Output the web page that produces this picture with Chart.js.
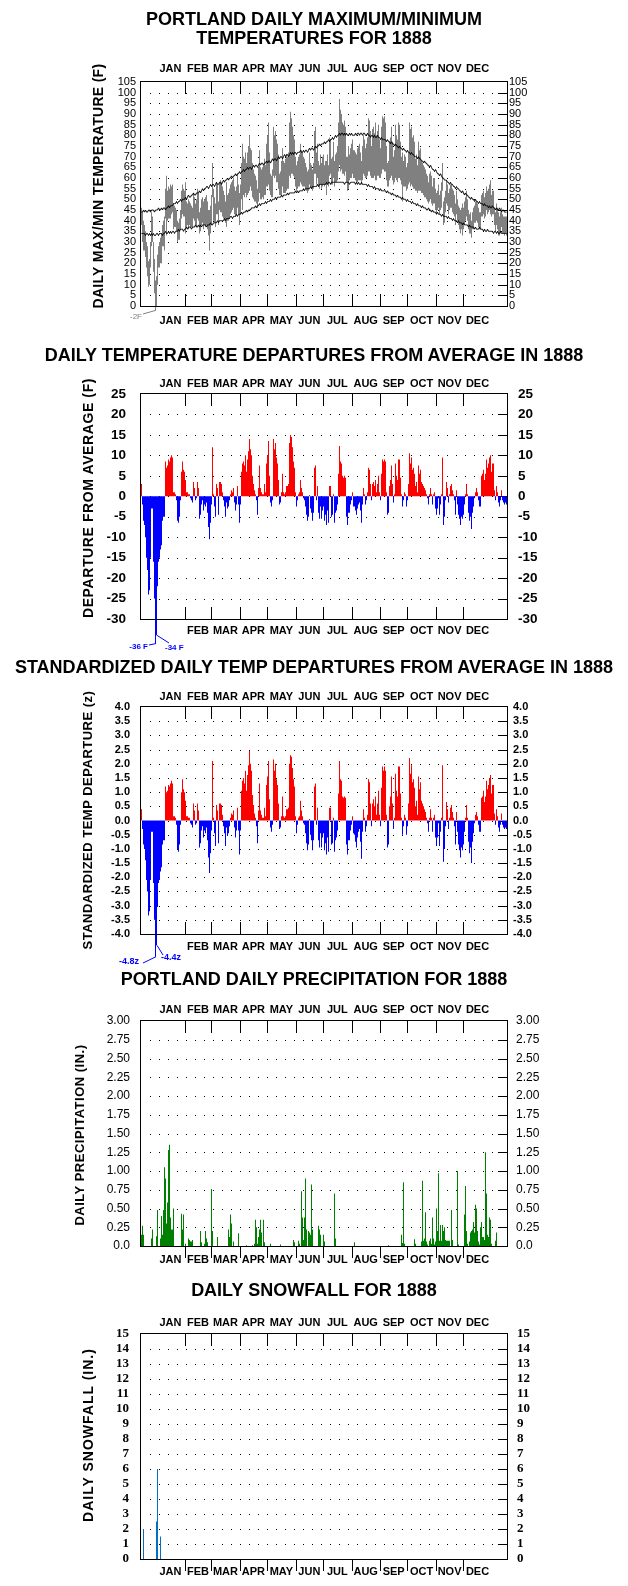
<!DOCTYPE html>
<html><head><meta charset="utf-8">
<script src="https://cdn.jsdelivr.net/npm/chart.js@4.4.1/dist/chart.umd.min.js"></script>
<style>
html,body{margin:0;padding:0;background:#fff;}
body{width:628px;height:1586px;position:relative;overflow:hidden;font-family:"Liberation Sans",Arial,sans-serif;}
canvas{position:absolute;left:0;}
.title{position:absolute;left:0;width:628px;text-align:center;font-weight:bold;font-size:18px;line-height:20px;color:#000;white-space:nowrap;}
.ytitle{position:absolute;width:300px;text-align:center;font-weight:bold;font-size:13px;line-height:16px;color:#000;white-space:nowrap;transform:rotate(-90deg);}
#warn{position:absolute;left:0;top:0;color:#f0f;font-size:20px;}
</style></head><body>
<canvas id="c1"></canvas><canvas id="c2"></canvas><canvas id="c3"></canvas><canvas id="c4"></canvas><canvas id="c5"></canvas>
<div class="title" style="top:8.5px">PORTLAND DAILY MAXIMUM/MINIMUM</div>
<div class="title" style="top:28px">TEMPERATURES FOR 1888</div>
<div class="title" style="top:345px">DAILY TEMPERATURE DEPARTURES FROM AVERAGE IN 1888</div>
<div class="title" style="top:657px">STANDARDIZED DAILY TEMP DEPARTURES FROM AVERAGE IN 1888</div>
<div class="title" style="top:969px">PORTLAND DAILY PRECIPITATION FOR 1888</div>
<div class="title" style="top:1280px">DAILY SNOWFALL FOR 1888</div>
<div class="ytitle" style="left:-52px;top:178px;font-size:14px;letter-spacing:0.3px">DAILY MAX/MIN TEMPERATURE (F)</div>
<div class="ytitle" style="left:-62px;top:490px;font-size:14px;letter-spacing:0.6px">DEPARTURE FROM AVERAGE (F)</div>
<div class="ytitle" style="left:-62px;top:812px;font-size:13px;letter-spacing:0.5px">STANDARDIZED TEMP DEPARTURE (z)</div>
<div class="ytitle" style="left:-70px;top:1127px;font-size:13px;letter-spacing:0.5px">DAILY PRECIPITATION (IN.)</div>
<div class="ytitle" style="left:-62px;top:1427px;font-size:14px;letter-spacing:1px">DAILY SNOWFALL (IN.)</div>
<div id="warn"></div>
<script>
// ---------- categories ----------
const MONTHS = ['JAN','FEB','MAR','APR','MAY','JUN','JUL','AUG','SEP','OCT','NOV','DEC'];
const MONTH_DAYS = [31,29,31,30,31,30,31,31,30,31,30,31];

// ---------- daily maximum temperature (F) ----------
const dailyMax = [
/*JAN*/46,44,40,38,35,30,28,21,22,30,44,42,30,22,12,14,24,28,30,32,34,38,40,42,55,61,54,56,55,57,56,
/*FEB*/57,48,47,46,45,40,39,41,45,54,57,55,54,58,49,48,50,49,48,47,46,53,51,48,50,55,53,44,46,
/*MAR*/50,51,49,50,51,52,49,45,45,47,52,67,55,51,48,58,57,49,58,59,58,56,54,52,49,58,52,53,55,57,58,
/*APR*/59,60,56,54,56,62,57,53,57,67,76,70,69,72,67,72,75,80,74,73,67,64,62,61,59,55,65,73,65,64,
/*MAY*/65,66,69,66,76,80,86,72,62,61,64,84,80,82,78,76,71,62,63,68,74,68,67,69,71,70,72,86,91,88,84,
/*JUN*/80,78,70,66,68,70,71,76,73,72,70,69,67,65,63,64,72,67,66,64,67,82,84,72,76,68,66,71,67,70,
/*JUL*/71,66,68,68,71,66,79,78,69,70,77,68,71,72,75,86,97,92,90,86,85,87,84,70,70,75,71,74,76,78,73,
/*AUG*/73,72,71,74,75,76,72,68,75,80,78,74,76,79,88,87,82,75,83,84,81,86,80,82,85,78,74,84,89,88,89,
/*SEP*/86,75,67,68,77,79,84,77,70,73,85,80,78,86,85,77,70,72,68,71,70,65,67,72,86,83,84,79,80,77,
/*OCT*/69,71,66,77,73,74,68,67,66,65,64,62,61,58,62,63,61,56,60,60,55,53,54,57,52,54,58,67,49,51,54,
/*NOV*/59,57,53,55,57,57,55,54,52,48,54,50,47,46,45,46,48,46,49,51,54,50,45,43,44,40,44,46,47,49,
/*DEC*/49,48,46,44,44,52,53,54,51,53,56,54,55,57,59,52,54,54,46,44,48,46,44,42,44,46,43,42,42,42,42
];
// ---------- daily minimum temperature (F) ----------
const dailyMin = [
/*JAN*/38,30,26,26,23,18,14,9,10,18,28,30,16,6,-2,0,10,18,18,20,20,28,28,26,41,33,40,41,41,41,43,
/*FEB*/44,36,37,37,35,30,31,31,36,41,43,42,42,34,37,38,36,38,37,37,37,41,40,38,37,41,40,34,35,
/*MAR*/38,39,36,38,37,38,36,33,26,34,38,51,40,39,37,43,43,38,45,44,44,42,41,40,39,37,40,40,41,43,44,
/*APR*/45,46,43,42,43,46,43,38,43,50,45,52,51,53,51,52,53,54,56,54,51,50,49,49,48,46,49,53,50,50,
/*MAY*/51,50,52,52,56,56,57,54,52,51,51,61,60,61,58,58,55,52,52,52,56,53,53,53,54,55,55,61,60,62,62,
/*JUN*/61,60,56,54,55,56,56,58,57,56,56,56,55,54,53,54,57,56,55,54,55,62,62,57,60,56,55,57,55,56,
/*JUL*/57,56,57,52,57,56,61,62,57,57,60,56,58,58,59,63,66,63,64,62,62,61,63,58,54,55,59,60,60,62,60,
/*AUG*/60,59,58,58,59,59,59,57,59,62,61,60,60,61,63,63,61,60,60,60,61,59,59,61,61,60,60,62,64,64,63,
/*SEP*/63,59,56,56,59,60,61,59,57,58,60,59,58,60,60,59,57,49,56,56,56,54,55,57,58,56,57,56,55,55,
/*OCT*/54,54,53,54,54,54,53,53,52,51,51,50,49,48,49,50,48,47,48,48,45,43,45,46,43,45,46,54,38,39,44,
/*NOV*/48,47,43,45,46,46,44,43,42,38,43,40,38,36,34,36,33,36,38,40,42,40,36,34,34,32,36,36,39,39,
/*DEC*/40,39,37,36,36,42,42,43,41,42,45,43,44,45,43,42,43,43,38,35,38,36,33,33,34,37,34,34,33,34,33
];
// ---------- normal high / low (F) ----------
const normalHigh = [
/*JAN*/44,44,45,44,45,44,44,45,45,44,45,45,45,44,45,45,45,46,45,45,46,45,46,46,45,46,46,47,46,47,47,
/*FEB*/47,48,48,48,49,48,49,49,50,49,50,50,50,51,50,51,52,51,51,52,52,53,52,52,53,53,53,54,53,
/*MAR*/54,55,54,55,55,56,56,55,56,57,56,57,57,56,57,58,57,57,58,58,57,58,59,58,59,59,60,59,60,60,61,
/*APR*/60,61,61,62,61,62,62,63,62,63,63,64,63,64,64,65,64,65,65,64,65,66,65,66,66,65,66,67,66,67,
/*MAY*/67,66,67,67,68,67,68,68,67,68,69,68,69,69,68,69,70,69,70,70,69,70,71,70,71,71,70,71,72,71,72,
/*JUN*/71,72,72,71,72,72,72,73,72,72,73,72,73,73,72,73,74,73,74,74,73,74,75,74,75,75,76,75,76,76,
/*JUL*/76,77,76,77,77,78,77,78,78,79,78,79,80,79,80,80,81,80,81,81,80,81,80,81,80,80,81,80,81,80,80,
/*AUG*/80,81,80,81,81,80,81,81,80,81,81,80,80,81,80,80,79,80,80,79,80,79,79,80,79,79,78,79,78,78,78,
/*SEP*/78,77,78,77,77,76,77,76,76,75,76,75,75,74,75,74,74,73,74,73,73,72,73,72,72,71,72,71,71,70,
/*OCT*/70,70,69,70,69,69,68,68,67,68,67,67,66,66,65,66,65,64,64,63,64,63,62,62,61,62,61,60,60,59,59,
/*NOV*/59,58,58,57,58,57,57,56,56,55,56,55,55,54,54,53,54,53,52,53,52,52,51,51,50,51,50,50,49,50,
/*DEC*/49,49,48,49,48,48,48,47,48,47,47,47,46,47,46,46,47,46,46,45,46,45,45,46,45,44,45,45,44,44,44
];
const normalLow = [
/*JAN*/34,34,34,34,33,34,34,33,34,33,34,33,34,33,33,34,34,33,34,34,34,33,34,34,35,34,34,35,34,35,34,
/*FEB*/35,35,34,35,35,35,36,35,36,36,36,35,36,36,37,36,37,37,37,36,37,37,37,38,37,37,38,37,38,
/*MAR*/37,38,38,38,38,37,38,38,38,39,38,38,39,39,39,39,40,39,40,40,40,40,40,41,40,41,41,41,41,42,42,
/*APR*/41,42,42,42,43,42,43,43,43,44,43,44,44,44,45,44,45,45,45,46,46,46,46,47,46,47,47,48,47,48,
/*MAY*/48,48,48,49,48,49,49,49,50,49,50,50,50,51,50,51,51,51,51,52,51,52,52,52,52,53,52,53,53,53,53,
/*JUN*/53,53,54,53,54,53,54,54,54,54,55,54,55,55,55,55,55,56,55,56,56,56,56,56,57,56,57,57,57,57,
/*JUL*/57,57,57,58,57,58,58,57,58,58,58,58,58,58,58,58,58,58,58,58,58,57,58,58,58,58,57,58,58,58,58,
/*AUG*/58,57,58,57,58,57,57,58,57,57,57,57,57,56,57,56,56,56,56,55,56,55,55,55,55,54,55,54,54,54,54,
/*SEP*/54,53,54,53,53,53,52,53,52,52,52,51,52,51,51,51,50,51,50,50,50,49,50,49,49,49,48,49,48,48,
/*OCT*/48,47,48,47,47,47,46,47,46,46,46,45,45,46,45,45,44,45,44,44,44,43,44,43,43,43,42,43,42,42,42,
/*NOV*/42,41,42,41,41,41,40,41,40,40,40,39,40,39,39,39,38,39,38,38,38,38,37,38,37,37,37,37,36,37,
/*DEC*/36,36,36,37,36,36,36,35,36,35,35,36,35,35,35,35,35,34,35,35,34,35,34,34,35,34,34,34,34,34,34
];
// ---------- daily departure from average (F) ----------
const departure = [
/*JAN*/3,-2,-6,-7,-10,-15,-18,-24,-23,-15,-3,-3,-16,-25,-36,-34,-22,-16,-15,-13,-12,-6,-5,-5,8.5,7,7.5,9,8.5,9.5,10,
/*FEB*/9.5,1,1,0.5,-1,-6,-6.5,-5,-1,6,8.5,6.5,6,4,1,1,0.5,0.5,-0.5,-1,-1.5,3.5,2,-1,-0.5,3.5,2,-5.5,-4.5,
/*MAR*/-2,-1,-3.5,-2,-2.5,-1.5,-4,-7.5,-10.5,-6.5,-2,12,0.5,-2.5,-5,3,2,-4.5,3.5,3.5,3,1,-1,-2.5,-5,-1.5,-3,-2.5,-1,0.5,1.5,
/*APR*/1,2,-1.5,-3.5,-2,2.5,-2,-6.5,-2,6,8,8.5,7.5,10,6,9,11,14,11.5,10,5,3,1.5,0.5,-1,-4.5,2,7.5,2,1,
/*MAY*/0.5,0.5,3,1,8,10,13.5,5,-1.5,-2.5,-1,14,11.5,13,9.5,8,4,-2,-1.5,1,5.5,1,0.5,1,2.5,2.5,3,13,15,14.5,12,
/*JUN*/8.5,7,1,-2.5,-1,0.5,1,4,2,1,-0.5,-1,-2.5,-4.5,-6,-5,0.3,-3,-4,-6,-4,7,7.5,-1,2.5,-4,-5.5,-2.5,-5.5,-3.5,
/*JUL*/-2.5,-6,-4.5,-7,-3.5,-6.5,2.5,2.5,-5,-4.5,0.5,-6.5,-4,-3.5,-2,5.5,12.3,8.5,8,5,4.5,5,4.5,-5,-7,-4,-4,-2,-1,1,-2.5,
/*AUG*/-2.5,-3.5,-4.5,-3,-2,-1.5,-3.5,-6.5,-2,2,0.5,-2,-1,1,7,6.5,3,-1,3,3.5,2.5,4,1,3,5,1,-1,5.5,9,8.5,9,
/*SEP*/8.5,1,-4.5,-4,2.5,4,7.5,3,-1.5,0.5,8,5,4,9,9,4.5,0.5,-2.5,-1,1,0.5,-2.5,-1,3,10.5,8,9.5,6.5,7,5.5,
/*OCT*/2.5,3.5,1,7.5,5.5,6.5,3.5,3,2.5,2,1.5,0.5,-0.5,-2,0.5,2,0.5,-2,0.5,1,-3,-4.5,-3,-0.5,-4.5,-2,0.5,9.5,-7,-5,-1,
/*NOV*/3.5,2,-1.5,0.5,2.5,3,1.5,0.5,-1,-4.5,1.5,-2,-4.5,-5.5,-7,-5,-5.5,-4.5,-2,0.5,3,0.5,-4,-6,-5,-8,-4,-2.5,-0.5,1,
/*DEC*/2,1,-1,-2.5,-2.5,5,5.5,6.5,4,5.5,9,7,8,9.5,10,6,8,8,1.5,-1,2.5,1,-1.5,-2.5,-1,1.5,-1,-1.5,-2,-1.5,-2
];
// ---------- standardized daily departure (z) ----------
const zDeparture = [
/*JAN*/0.4,-0.3,-0.85,-1.0,-1.4,-2.1,-2.5,-3.35,-3.2,-2.1,-0.4,-0.4,-2.2,-3.5,-4.8,-4.4,-3.05,-2.2,-2.1,-1.8,-1.65,-0.85,-0.7,-0.7,1.2,1.0,1.05,1.25,1.2,1.3,1.4,
/*FEB*/1.3,0.15,0.15,0.1,-0.15,-1.0,-1.1,-0.85,-0.15,1.0,1.45,1.1,1.0,0.7,0.15,0.15,0.1,0.1,-0.1,-0.15,-0.25,0.6,0.35,-0.15,-0.1,0.6,0.35,-0.95,-0.8,
/*MAR*/-0.35,-0.2,-0.6,-0.35,-0.45,-0.25,-0.7,-1.3,-1.85,-1.15,-0.35,2.1,0.1,-0.45,-0.9,0.55,0.35,-0.8,0.6,0.6,0.55,0.2,-0.2,-0.45,-0.9,-0.25,-0.55,-0.45,-0.2,0.1,0.25,
/*APR*/0.2,0.35,-0.25,-0.6,-0.35,0.45,-0.35,-1.2,-0.35,1.05,1.4,1.5,1.3,1.75,1.05,1.6,1.95,2.45,2.0,1.75,0.9,0.55,0.25,0.1,-0.2,-0.8,0.35,1.3,0.35,0.2,
/*MAY*/0.1,0.1,0.45,0.15,1.25,1.55,2.1,0.75,-0.25,-0.4,-0.15,2.15,1.75,2.0,1.45,1.25,0.6,-0.3,-0.25,0.15,0.85,0.15,0.1,0.15,0.4,0.4,0.45,2.0,2.3,2.25,1.85,
/*JUN*/1.45,1.2,0.15,-0.45,-0.15,0.1,0.15,0.7,0.35,0.15,-0.1,-0.15,-0.45,-0.8,-1.05,-0.85,0.05,-0.5,-0.7,-1.05,-0.7,1.2,1.3,-0.15,0.45,-0.7,-0.95,-0.45,-0.95,-0.6,
/*JUL*/-0.45,-1.05,-0.8,-1.2,-0.6,-1.1,0.45,0.45,-0.85,-0.8,0.1,-1.1,-0.7,-0.6,-0.35,0.95,2.1,1.45,1.4,0.85,0.8,0.85,0.8,-0.85,-1.2,-0.7,-0.7,-0.35,-0.15,0.15,-0.45,
/*AUG*/-0.5,-0.75,-0.95,-0.6,-0.4,-0.3,-0.75,-1.35,-0.4,0.4,0.1,-0.4,-0.2,0.2,1.45,1.35,0.6,-0.2,0.6,0.75,0.5,0.85,0.2,0.6,1.05,0.2,-0.2,1.15,1.9,1.75,1.9,
/*SEP*/1.75,0.2,-0.95,-0.85,0.5,0.85,1.55,0.6,-0.3,0.1,1.65,1.05,0.85,1.9,1.9,0.95,0.1,-0.5,-0.2,0.2,0.1,-0.5,-0.2,0.6,2.2,1.65,1.95,1.35,1.45,1.15,
/*OCT*/0.5,0.7,0.2,1.55,1.1,1.35,0.7,0.6,0.5,0.4,0.3,0.1,-0.1,-0.4,0.1,0.4,0.1,-0.4,0.1,0.2,-0.6,-0.9,-0.6,-0.1,-0.9,-0.4,0.1,1.95,-1.45,-1.0,-0.2,
/*NOV*/0.65,0.4,-0.3,0.1,0.45,0.55,0.3,0.1,-0.2,-0.85,0.3,-0.4,-0.85,-1.05,-1.3,-0.95,-1.05,-0.85,-0.4,0.1,0.55,0.1,-0.75,-1.15,-0.95,-1.5,-0.75,-0.45,-0.1,0.2,
/*DEC*/0.3,0.15,-0.15,-0.4,-0.4,0.8,0.85,1.05,0.65,0.85,1.4,1.1,1.25,1.5,1.6,0.95,1.25,1.25,0.25,-0.15,0.4,0.15,-0.25,-0.4,-0.15,0.25,-0.15,-0.25,-0.3,-0.25,-0.3
];
// ---------- daily precipitation (in.) ----------
const precipitation = [
/*JAN*/.15,.27,.15,0,0,0,0,0,0,0,.1,.22,0,0,0,.13,.48,0,0,.1,.4,.15,.48,1.05,.9,.3,.58,1.28,1.35,.38,.22,
/*FEB*/.22,.5,0,0,0,0,0,0,0,.43,.22,.42,0,.03,0,0,.1,.08,.06,.06,.08,0,0,0,0,0,0,0,.2,
/*MAR*/.05,0,0,.03,.2,.1,.05,0,0,0,.76,.2,0,0,0,0,.12,0,0,0,0,0,0,0,0,0,0,.22,.12,.42,.3,
/*APR*/0,.06,0,0,0,0,.17,0,0,0,0,0,0,0,.01,0,0,0,0,0,.01,0,.03,.35,.25,.03,.12,.22,.35,.18,
/*MAY*/0,.35,.05,0,0,0,0,0,.03,0,0,0,0,0,0,0,0,0,.02,0,0,0,0,0,0,0,0,0,0,0,0,
/*JUN*/.08,.05,0,0,0,.07,.03,0,.73,.38,.08,.38,.9,.22,0,.2,.18,.15,.82,.22,0,0,0,0,0,.27,.22,.15,0,0,
/*JUL*/.15,.06,0,0,0,0,0,0,0,0,0,.7,.1,0,0,0,0,0,0,0,0,0,0,0,0,0,0,0,0,0,0,
/*AUG*/.05,0,0,0,0,0,0,0,0,0,0,0,0,0,0,0,0,0,0,0,0,0,0,0,0,0,0,0,0,0,0,
/*SEP*/0,0,0,.01,0,0,0,0,0,0,0,0,0,0,0,0,.15,.04,.85,.03,0,0,0,0,0,0,0,0,0,.09,
/*OCT*/.03,0,0,0,0,0,.06,.87,.07,.1,.45,.06,.02,0,.07,.1,.03,.38,.1,.02,.06,.5,.2,.97,.07,.28,.07,.28,.2,.25,.08,
/*NOV*/.07,.07,.07,.07,0,.48,.08,0,0,0,0,1.0,.02,0,0,0,0,0,.42,.8,.2,.03,0,.06,.18,.2,.22,.32,.18,.55,
/*DEC*/.5,.2,.06,.02,.25,.32,.12,.12,.08,1.25,.7,.15,.12,.38,.35,.03,0,0,0,.07,.18,0,0,0,0,0,0,0,0,0,0
];
// ---------- daily snowfall (in.) ----------
const snowfall = [
/*JAN*/0,0,2,0,0,0,0,0,0,0,0,0,0,0,0,2.5,6,0,0,1.5,0,0,0,0,0,0,0,0,0,0,0,
/*FEB*/0,0,0,0,0,0,0,0,0,0,0,0,0,0,0,0,0,0,0,0,0,0,0,0,0,0,0,0,0,
/*MAR*/0,0,0,0,0,0,0,0,0,0,0,0,0,0,0,0,0,0,0,0,0,0,0,0,0,0,0,0,0,0,0,
/*APR*/0,0,0,0,0,0,0,0,0,0,0,0,0,0,0,0,0,0,0,0,0,0,0,0,0,0,0,0,0,0,
/*MAY*/0,0,0,0,0,0,0,0,0,0,0,0,0,0,0,0,0,0,0,0,0,0,0,0,0,0,0,0,0,0,0,
/*JUN*/0,0,0,0,0,0,0,0,0,0,0,0,0,0,0,0,0,0,0,0,0,0,0,0,0,0,0,0,0,0,
/*JUL*/0,0,0,0,0,0,0,0,0,0,0,0,0,0,0,0,0,0,0,0,0,0,0,0,0,0,0,0,0,0,0,
/*AUG*/0,0,0,0,0,0,0,0,0,0,0,0,0,0,0,0,0,0,0,0,0,0,0,0,0,0,0,0,0,0,0,
/*SEP*/0,0,0,0,0,0,0,0,0,0,0,0,0,0,0,0,0,0,0,0,0,0,0,0,0,0,0,0,0,0,
/*OCT*/0,0,0,0,0,0,0,0,0,0,0,0,0,0,0,0,0,0,0,0,0,0,0,0,0,0,0,0,0,0,0,
/*NOV*/0,0,0,0,0,0,0,0,0,0,0,0,0,0,0,0,0,0,0,0,0,0,0,0,0,0,0,0,0,0,
/*DEC*/0,0,0,0,0,0,0,0,0,0,0,0,0,0,0,0,0,0,0,0,0,0,0,0,0,0,0,0,0,0,0
];

// ---------- derived categories ----------
const MONTH_START = []; let acc = 0;
MONTH_DAYS.forEach(n => { MONTH_START.push(acc); acc += n; });
const YEAR_DAYS = acc;
const MONTH_MID = MONTH_START.map((s, i) => s + MONTH_DAYS[i] / 2);
const DAY_LABELS = [];
MONTH_DAYS.forEach((n, m) => { for (let d = 1; d <= n; d++) DAY_LABELS.push(MONTHS[m] + ' ' + d); });

const lens = {dailyMax, dailyMin, normalHigh, normalLow, departure, zDeparture, precipitation, snowfall};
const bad = Object.entries(lens).filter(([k, v]) => v.length !== YEAR_DAYS).map(([k, v]) => k + ':' + v.length);
if (bad.length) document.getElementById('warn').textContent = 'LEN ' + bad.join(' ');

Chart.defaults.font.family = '"Liberation Sans", Arial, sans-serif';
Chart.defaults.color = '#000';

// ---------- decoration plugin (dotted grid, frame, month ticks, notes) ----------
const decorPlugin = {
  id: 'decor',
  beforeDatasetsDraw(chart, args, o) {
    const ctx = chart.ctx, a = chart.chartArea, ys = chart.scales.y;
    ctx.save(); ctx.fillStyle = '#000';
    o.grid.forEach(v => {
      const py = Math.round(ys.getPixelForValue(v));
      for (let x = a.left + 9; x <= a.right - 12; x += 9) ctx.fillRect(x, py, 1, 1);
      ctx.fillRect(a.right - 9, py, 9, 1);
    });
    ctx.restore();
  },
  afterDatasetsDraw(chart, args, o) {
    const ctx = chart.ctx, a = chart.chartArea, xs = chart.scales.xTop, ys = chart.scales.y;
    ctx.save();
    ctx.strokeStyle = '#000'; ctx.lineWidth = 1;
    ctx.strokeRect(a.left - 0.5, a.top - 0.5, a.right - a.left + 1, a.bottom - a.top + 1);
    ctx.beginPath();
    MONTH_START.slice(1).forEach(d => {
      const px = Math.round(xs.getPixelForValue(d)) + 0.5;
      ctx.moveTo(px, a.top); ctx.lineTo(px, a.top + 12);
      if (o.bottomOut) { ctx.moveTo(px, a.bottom); ctx.lineTo(px, a.bottom + 12); }
      else { ctx.moveTo(px, a.bottom); ctx.lineTo(px, a.bottom - 12); }
    });
    ctx.stroke();
    (o.notes || []).forEach(n => {
      const x0 = chart.scales.x.getPixelForValue(n.day) + 0.5;
      const y0 = ys.getPixelForValue(n.value);
      ctx.strokeStyle = n.color; ctx.fillStyle = n.color;
      ctx.beginPath(); ctx.moveTo(x0, y0); ctx.lineTo(x0 + n.lx, a.bottom + n.ly); ctx.stroke();
      ctx.font = n.font; ctx.textAlign = n.align; ctx.textBaseline = 'middle';
      ctx.fillText(n.text, x0 + n.tx, a.bottom + n.ty);
    });
    ctx.restore();
  }
};

function monthAxis(pos, pad, showJan, h) {
  return {
    type: 'linear', position: pos, min: 0, max: YEAR_DAYS,
    afterBuildTicks: s => { s.ticks = MONTH_MID.map(v => ({value: v})); },
    afterFit: s => { s.height = h; },
    grid: {display: false, drawTicks: false}, border: {display: false},
    ticks: {autoSkip: false, maxRotation: 0, minRotation: 0, padding: pad, color: '#000',
      font: {size: 11, weight: 'bold', lineHeight: 1},
      callback: (v, i) => (i === 0 && !showJan) ? '' : MONTHS[i]}
  };
}
function valueAxis(pos, p, w) {
  return {
    type: 'linear', position: pos, min: p.min, max: p.max,
    afterFit: s => { s.width = w; },
    grid: {display: false, drawTicks: false}, border: {display: false},
    ticks: {stepSize: p.step, autoSkip: false, padding: pos === 'left' ? p.padL : p.padR,
      color: '#000', font: p.tickFont, callback: p.fmt}
  };
}
function buildChart(p) {
  const canvas = document.getElementById(p.id);
  canvas.style.top = p.canvasTop + 'px';
  canvas.width = 628; canvas.height = p.canvasH;
  canvas.style.width = '628px'; canvas.style.height = p.canvasH + 'px';
  const cTop = p.area.top - p.canvasTop;
  const cBot = p.canvasTop + p.canvasH - p.area.bottom;
  const topH = 30, botH = Math.min(28, cBot);
  return new Chart(canvas, {
    type: 'bar',
    data: {labels: DAY_LABELS, datasets: p.datasets},
    options: {
      responsive: false, animation: false, devicePixelRatio: 1,
      layout: {padding: {left: 0, right: 0, top: cTop - topH, bottom: cBot - botH}},
      plugins: {legend: {display: false}, tooltip: {enabled: false}, decor: p.decor},
      scales: {
        x: {type: 'category', display: false, offset: true},
        xTop: monthAxis('top', p.topPad, true, topH),
        xBot: monthAxis('bottom', p.botPad, p.janBottom, botH),
        y: valueAxis('left', p, 141),
        y2: valueAxis('right', p, 121)
      }
    },
    plugins: [decorPlugin]
  });
}
function range(a, b, s) { const r = []; for (let v = a; v <= b + 1e-9; v += s) r.push(Math.round(v * 1000) / 1000); return r; }
const barBase = {xAxisID: 'x', yAxisID: 'y', barPercentage: 1, categoryPercentage: 1, inflateAmount: 0, borderWidth: 0, order: 2};
const lineBase = {type: 'line', xAxisID: 'x', yAxisID: 'y', borderColor: '#000', borderWidth: 1, pointRadius: 0, tension: 0, order: 0, fill: false};

// Panel 1: max/min temperature
buildChart({
  id: 'c1', canvasTop: 0, canvasH: 340, area: {top: 82, bottom: 306},
  min: 0, max: 105, step: 5, padL: 5, padR: 2, tickFont: {size: 11}, fmt: v => String(v),
  topPad: 8, botPad: 9, janBottom: true,
  decor: {grid: range(5, 100, 5), bottomOut: false,
    notes: [{day: 14, value: -2, lx: -13, ly: 8, tx: -14, ty: 11, text: '-2F', align: 'right', color: '#808080', font: '8px "Liberation Sans"'}]},
  datasets: [
    Object.assign({}, lineBase, {data: normalHigh}),
    Object.assign({}, lineBase, {data: normalLow}),
    Object.assign({}, barBase, {data: dailyMin.map((lo, i) => [lo, dailyMax[i]]), backgroundColor: '#808080',
      clip: {left: 0, top: 0, right: 0, bottom: 6}})
  ]
});
// Panel 2: departures
buildChart({
  id: 'c2', canvasTop: 335, canvasH: 325, area: {top: 394, bottom: 619},
  min: -30, max: 25, step: 5, padL: 15, padR: 11, tickFont: {size: 13.5, weight: 'bold'}, fmt: v => String(v),
  topPad: 5, botPad: 6, janBottom: false,
  decor: {grid: range(-25, 20, 5), bottomOut: false,
    notes: [
      {day: 14, value: -36, lx: -7, ly: 26, tx: -8, ty: 28, text: '-36 F', align: 'right', color: '#0000ff', font: 'bold 8px "Liberation Sans"'},
      {day: 15, value: -34, lx: 12, ly: 24, tx: 8, ty: 29, text: '-34 F', align: 'left', color: '#0000ff', font: 'bold 8px "Liberation Sans"'}]},
  datasets: [Object.assign({}, barBase, {data: departure,
    backgroundColor: departure.map(v => v >= 0 ? '#ff0000' : '#0000ff'),
    clip: {left: 0, top: 0, right: 0, bottom: 30}})]
});
// Panel 3: standardized departures
buildChart({
  id: 'c3', canvasTop: 655, canvasH: 320, area: {top: 707, bottom: 934},
  min: -4, max: 4, step: 0.5, padL: 11, padR: 6, tickFont: {size: 11, weight: 'bold'}, fmt: v => v.toFixed(1),
  topPad: 5, botPad: 7, janBottom: false,
  decor: {grid: range(-3.5, 3.5, 0.5), bottomOut: false,
    notes: [
      {day: 14, value: -4.8, lx: -13, ly: 29, tx: -17, ty: 28, text: '-4.8z', align: 'right', color: '#0000ff', font: 'bold 9px "Liberation Sans"'},
      {day: 15, value: -4.4, lx: 6, ly: 21, tx: 4, ty: 24, text: '-4.4z', align: 'left', color: '#0000ff', font: 'bold 9px "Liberation Sans"'}]},
  datasets: [Object.assign({}, barBase, {data: zDeparture,
    backgroundColor: zDeparture.map(v => v >= 0 ? '#ff0000' : '#0000ff'),
    clip: {left: 0, top: 0, right: 0, bottom: 30}})]
});
// Panel 4: precipitation
buildChart({
  id: 'c4', canvasTop: 970, canvasH: 315, area: {top: 1021, bottom: 1246},
  min: 0, max: 3, step: 0.25, padL: 11, padR: 9, tickFont: {size: 12}, fmt: v => v === 0 ? '0.0' : v.toFixed(2),
  topPad: 6, botPad: 8, janBottom: true,
  decor: {grid: range(0.25, 2.75, 0.25), bottomOut: true, notes: []},
  datasets: [Object.assign({}, barBase, {data: precipitation, backgroundColor: '#008000'})]
});
// Panel 5: snowfall
buildChart({
  id: 'c5', canvasTop: 1275, canvasH: 311, area: {top: 1334, bottom: 1559},
  min: 0, max: 15, step: 1, padL: 12, padR: 10, tickFont: {family: '"Liberation Serif", serif', size: 13, weight: 'bold'}, fmt: v => String(v),
  topPad: 6, botPad: 7, janBottom: true,
  decor: {grid: range(1, 14, 1), bottomOut: true, notes: []},
  datasets: [Object.assign({}, barBase, {data: snowfall, backgroundColor: '#0070c0'})]
});
</script>
</body></html>
